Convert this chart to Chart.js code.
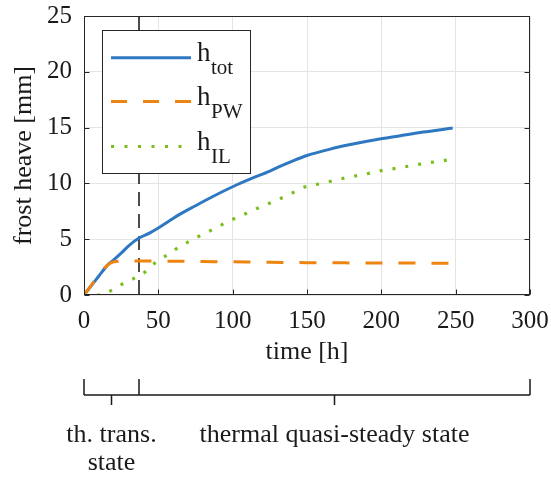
<!DOCTYPE html>
<html><head><meta charset="utf-8">
<script src="https://cdn.jsdelivr.net/npm/chart.js@4/dist/chart.umd.min.js"></script>
<style>html,body{margin:0;padding:0;background:#fff}#wrap{width:551px;height:478px;position:relative}</style>
</head><body><div id="wrap"><canvas id="c" width="551" height="478"></canvas></div>
<script>
// ---- data ----
const timeTot = [0,5,10,16,20,25,30,37,44,50,57,64,75,87,100,112,125,133,141,150,165,180,197,212,228,240,248];
const hTot    = [0,0.85,1.7,2.7,3.15,3.75,4.4,5.1,5.55,6.0,6.6,7.2,8.0,8.85,9.7,10.4,11.1,11.6,12.05,12.5,13.05,13.5,13.93,14.25,14.6,14.8,14.97];
const timePW  = [0,16,20,30,40,60,80,100,125,150,175,200,225,246];
const hPW     = [0,2.7,2.98,3.05,3.05,3.03,3.0,2.97,2.93,2.9,2.88,2.87,2.86,2.85];
const timeIL  = [0,10,19,26,33,40,48,56,64,75,87,98,109,118,127,138,148,160,176,188,200,212,225,237,248];
const hIL     = [0,0,0.45,1.0,1.45,1.95,2.9,3.6,4.3,5.1,5.9,6.65,7.3,7.85,8.35,9.0,9.65,10.0,10.5,10.8,11.15,11.4,11.7,11.95,12.15];
const tTrans  = 37;
const xTicks  = [0,50,100,150,200,250,300];
const yTicks  = [0,5,10,15,20,25];
const legendMain = ['h','h','h'];
const legendSub  = ['tot','PW','IL'];
const phaseBounds = [0, tTrans, 300];
const phaseLabels = [['th. trans.','state'], ['thermal quasi-steady state']];
const xTitle = 'time [h]';
const yTitle = 'frost heave [mm]';

// ---- style ----
const FONT = 'Liberation Serif';
const TXT = '#1a1a1a';
const AXC = '#262626';
const cBlue = '#2e78c2', cOrange = '#ed8410', cGreen = '#79bf1c';

const pts = (t, v) => t.map((x, i) => ({x, y: v[i]}));

const datasets = [
  {label:'tot', data: pts(timeTot, hTot), borderColor: cBlue, borderWidth: 3, order: 2},
  {label:'PW',  data: pts(timePW, hPW),  borderColor: cOrange, borderWidth: 3, borderDash:[17,16], order: 1},
  {label:'IL',  data: pts(timeIL, hIL),  borderColor: cGreen, borderWidth: 3.2, borderDash:[3,10], order: 0},
  {label:'trans', data: [{x:tTrans, y:yTicks[yTicks.length-1]}, {x:tTrans, y:0}], borderColor:'#111', borderWidth:1.5, borderDash:[14,8], order: 3}
];
datasets.forEach(d => { d.pointRadius = 0; d.fill = false; d.borderCapStyle = 'butt'; d.tension = 0; if (d.order < 3) d.cubicInterpolationMode = 'monotone'; });

const framePlugin = {
  id: 'frame',
  afterDatasetsDraw(chart) {
    const {ctx, chartArea: a, scales: {x, y}} = chart;
    ctx.save();
    const L = Math.round(a.left) + 0.5, R = Math.round(a.right) - 0.5, T = Math.round(a.top) + 0.5, B = Math.round(a.bottom) - 0.5;
    ctx.strokeStyle = AXC; ctx.lineWidth = 1; ctx.setLineDash([]);
    ctx.strokeRect(L, T, R - L, B - T);
    const tl = 5;
    ctx.beginPath();
    yTicks.forEach(v => { const py = Math.round(y.getPixelForValue(v)) + 0.5; ctx.moveTo(L, py); ctx.lineTo(L + tl, py); ctx.moveTo(R, py); ctx.lineTo(R - tl, py); });
    xTicks.forEach(v => { const px = Math.round(x.getPixelForValue(v)) + 0.5; ctx.moveTo(px, B); ctx.lineTo(px, B - tl); });
    ctx.stroke();

    // legend
    const bx = 102.5, by = 30.5, bw = 148, bh = 143;
    ctx.fillStyle = '#fff'; ctx.fillRect(bx, by, bw, bh);
    ctx.strokeStyle = AXC; ctx.lineWidth = 1; ctx.strokeRect(bx, by, bw, bh);
    const rows = [57.7, 101.5, 146.5];
    const legDash = [[], [16,16], [3,10.5]];
    for (let i = 0; i < 3; i++) {
      const d = datasets[i];
      ctx.beginPath(); ctx.setLineDash(legDash[i]); ctx.lineCap = 'butt';
      ctx.strokeStyle = d.borderColor; ctx.lineWidth = d.borderWidth;
      ctx.moveTo(111, rows[i]); ctx.lineTo(191, rows[i]); ctx.stroke();
      ctx.setLineDash([]);
      ctx.fillStyle = TXT; ctx.textAlign = 'left'; ctx.textBaseline = 'alphabetic';
      ctx.font = '27px "' + FONT + '"';
      ctx.fillText(legendMain[i], 197, rows[i] + 3);
      const w = ctx.measureText(legendMain[i]).width;
      ctx.font = '21px "' + FONT + '"';
      ctx.fillText(legendSub[i], 197 + w + 0.5, rows[i] + 16);
    }
    ctx.restore();
  },
  afterDraw(chart) {
    const {ctx, scales: {x}} = chart;
    ctx.save();
    ctx.strokeStyle = TXT; ctx.lineWidth = 1.5; ctx.setLineDash([]);
    const yTop = 379, yLine = 395, yTick = 405;
    const px = phaseBounds.map(v => x.getPixelForValue(v));
    ctx.beginPath();
    px.forEach(p => { ctx.moveTo(p, yTop); ctx.lineTo(p, yLine); });
    ctx.moveTo(px[0], yLine); ctx.lineTo(px[px.length-1], yLine);
    const mids = [];
    for (let i = 0; i < phaseBounds.length - 1; i++) {
      const m = x.getPixelForValue((phaseBounds[i] + phaseBounds[i+1]) / 2);
      mids.push(m);
      ctx.moveTo(m, yLine); ctx.lineTo(m, yTick);
    }
    ctx.stroke();
    ctx.fillStyle = TXT; ctx.font = '26px "' + FONT + '"'; ctx.textAlign = 'center'; ctx.textBaseline = 'alphabetic';
    phaseLabels.forEach((lines, i) => lines.forEach((s, j) => ctx.fillText(s, mids[i], 441.5 + j * 28.5)));
    ctx.restore();
  }
};

new Chart(document.getElementById('c'), {
  type: 'line',
  data: {datasets},
  plugins: [framePlugin],
  options: {
    responsive: false, animation: false, devicePixelRatio: 1,
    layout: {padding: {left: 0, top: 16, right: 21, bottom: 108}},
    plugins: {legend: {display: false}, tooltip: {enabled: false}},
    scales: {
      x: {
        type: 'linear', min: xTicks[0], max: xTicks[xTicks.length-1],
        afterBuildTicks: s => { s.ticks = xTicks.map(v => ({value: v})); },
        afterFit: s => { s.height = 75; s.paddingLeft = 0; s.paddingRight = 0; },
        grid: {color: '#e4e4e4', lineWidth: 1, drawTicks: false},
        border: {display: false},
        ticks: {font: {family: FONT, size: 25}, color: TXT, padding: 11, maxRotation: 0, autoSkip: false},
        title: {display: true, text: xTitle, font: {family: FONT, size: 26}, color: TXT, padding: {top: 0, bottom: 2}}
      },
      y: {
        type: 'linear', min: yTicks[0], max: yTicks[yTicks.length-1],
        afterBuildTicks: s => { s.ticks = yTicks.map(v => ({value: v})); },
        afterFit: s => { s.width = 84; s.paddingTop = 0; s.paddingBottom = 0; },
        grid: {color: '#e4e4e4', lineWidth: 1, drawTicks: false},
        border: {display: false},
        ticks: {font: {family: FONT, size: 25}, color: TXT, padding: 12, autoSkip: false},
        title: {display: true, text: yTitle, font: {family: FONT, size: 26}, color: TXT, padding: {top: 8.6, bottom: 0}}
      }
    }
  }
});
</script></body></html>
